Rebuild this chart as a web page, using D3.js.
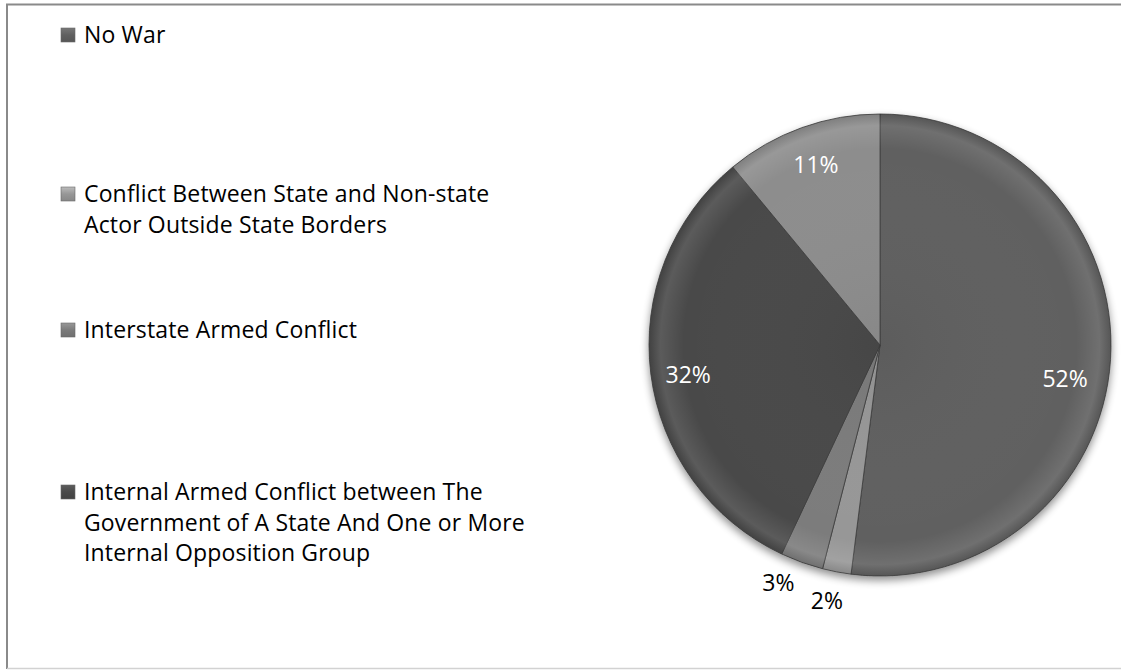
<!DOCTYPE html>
<html>
<head>
<meta charset="utf-8">
<script src="https://cdn.jsdelivr.net/npm/d3@7"></script>
<style>
  html, body { margin: 0; padding: 0; background: #fff; }
  svg { display: block; }
  text { font-family: "Open Sans", Lato, sans-serif; }
</style>
</head>
<body>
<svg id="chart" width="1121" height="670"></svg>
<script>
// Share of cases by conflict type (percent), clockwise from 12 o'clock
const categories = [
  "No War",
  "Conflict Between State and Non-state Actor Outside State Borders",
  "Interstate Armed Conflict",
  "Internal Armed Conflict between The Government of A State And One or More Internal Opposition Group",
  "Other"
];
const values = [52, 2, 3, 32, 11];
const sliceLabels = ["52%", "2%", "3%", "32%", "11%"];

// Legend entries (wrapped as in the legend box); the fifth series has no entry
const legendLines = [
  ["No War"],
  ["Conflict Between State and Non-state", "Actor Outside State Borders"],
  ["Interstate Armed Conflict"],
  ["Internal Armed Conflict between The", "Government of A State And One or More", "Internal Opposition Group"]
];

const fills = ["#606060", "#979797", "#7b7b7b", "#4a4a4a", "#8d8d8d"];

const W = 1121, H = 670;
const svg = d3.select("#chart");

// Chart area frame
svg.append("line").attr("x1", 6).attr("x2", W).attr("y1", 4.5).attr("y2", 4.5)
  .attr("stroke", "#8a8a8a").attr("stroke-width", 2);
svg.append("line").attr("x1", 7).attr("x2", 7).attr("y1", 4).attr("y2", 669)
  .attr("stroke", "#8a8a8a").attr("stroke-width", 2);
svg.append("line").attr("x1", 7).attr("x2", W).attr("y1", 668.5).attr("y2", 668.5)
  .attr("stroke", "#d2d2d2").attr("stroke-width", 1.5);

const defs = svg.append("defs");

// Soft drop shadow under the pie
const shadow = defs.append("filter").attr("id", "pieShadow")
  .attr("x", "-20%").attr("y", "-20%").attr("width", "140%").attr("height", "140%");
shadow.append("feGaussianBlur").attr("in", "SourceAlpha").attr("stdDeviation", 4).attr("result", "blur");
shadow.append("feOffset").attr("in", "blur").attr("dx", 0).attr("dy", 4).attr("result", "off");
shadow.append("feComponentTransfer").attr("in", "off").attr("result", "soft")
  .append("feFuncA").attr("type", "linear").attr("slope", 0.45);
const merge = shadow.append("feMerge");
merge.append("feMergeNode").attr("in", "soft");
merge.append("feMergeNode").attr("in", "SourceGraphic");

// Rim bevel highlight
const rim = defs.append("radialGradient").attr("id", "rimGrad")
  .attr("cx", "50%").attr("cy", "50%").attr("r", "50%");
rim.append("stop").attr("offset", "0%").attr("stop-color", "#000").attr("stop-opacity", 0.04);
rim.append("stop").attr("offset", "85%").attr("stop-color", "#fff").attr("stop-opacity", 0.0);
rim.append("stop").attr("offset", "95%").attr("stop-color", "#fff").attr("stop-opacity", 0.10);
rim.append("stop").attr("offset", "100%").attr("stop-color", "#000").attr("stop-opacity", 0.10);

// Legend swatch gradient (light top bevel)
fills.forEach((c, i) => {
  const g = defs.append("linearGradient").attr("id", "sw" + i)
    .attr("x1", "0").attr("y1", "0").attr("x2", "0").attr("y2", "1");
  g.append("stop").attr("offset", "0%").attr("stop-color", d3.color(c).brighter(0.6));
  g.append("stop").attr("offset", "50%").attr("stop-color", c);
  g.append("stop").attr("offset", "100%").attr("stop-color", d3.color(c).darker(0.3));
});

// Pie
const cx = 880, cy = 345, R = 231;
const pie = d3.pie().sort(null).value(d => d).startAngle(0).endAngle(2 * Math.PI);
const arcs = pie(values);
const arc = d3.arc().innerRadius(0).outerRadius(R);

const pg = svg.append("g").attr("transform", `translate(${cx},${cy})`);
const slices = pg.append("g").attr("filter", "url(#pieShadow)");
slices.selectAll("path.slice").data(arcs).join("path")
  .attr("class", "slice")
  .attr("d", arc)
  .attr("fill", (d, i) => fills[i])
  .attr("stroke", "#3c3c3c")
  .attr("stroke-width", 0.8)
  .attr("stroke-linejoin", "round");
pg.append("circle").attr("r", R).attr("fill", "url(#rimGrad)").attr("pointer-events", "none");

// Data labels: inside for large slices, just outside the rim for thin ones
const labelRadius = [188, 260, 258, 194, 192];
const labelAngleShift = [6.4, 1, 3.4, -1.4, 0.3]; // degrees
const labelInside = [true, false, false, true, true];
pg.selectAll("text.lbl").data(arcs).join("text")
  .attr("class", "lbl")
  .attr("x", (d, i) => {
    const a = (d.startAngle + d.endAngle) / 2 + labelAngleShift[i] * Math.PI / 180;
    return labelRadius[i] * Math.sin(a);
  })
  .attr("y", (d, i) => {
    const a = (d.startAngle + d.endAngle) / 2 + labelAngleShift[i] * Math.PI / 180;
    return -labelRadius[i] * Math.cos(a);
  })
  .attr("text-anchor", "middle")
  .attr("dominant-baseline", "central")
  .attr("font-size", 23)
  .attr("fill", (d, i) => labelInside[i] ? "#ffffff" : "#000000")
  .text((d, i) => sliceLabels[i]);

// Legend
const legendTop = [43, 202, 338, 500];
const lineH = 30.5;
const lg = svg.append("g");
legendLines.forEach((lines, i) => {
  const y0 = legendTop[i];
  lg.append("rect")
    .attr("x", 61).attr("y", y0 - 15).attr("width", 14).attr("height", 14)
    .attr("fill", `url(#sw${i})`).attr("stroke", "#6a6a6a").attr("stroke-width", 0.6);
  const t = lg.append("text").attr("x", 84).attr("y", y0)
    .attr("font-size", 23).attr("letter-spacing", 0.15).attr("fill", "#000");
  lines.forEach((ln, j) => {
    t.append("tspan").attr("x", 84).attr("y", y0 + j * lineH).text(ln);
  });
});
</script>
</body>
</html>
